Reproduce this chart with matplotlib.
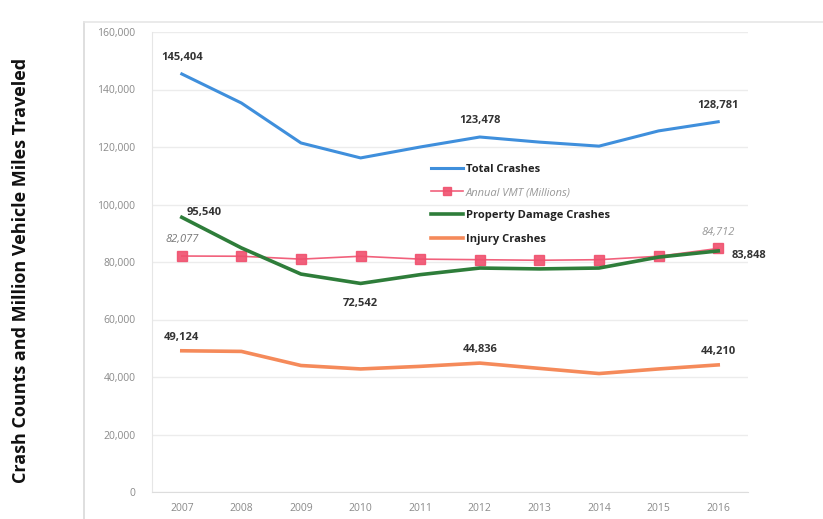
import matplotlib.pyplot as plt
from matplotlib.lines import Line2D

years = [2007, 2008, 2009, 2010, 2011, 2012, 2013, 2014, 2015, 2016]
total_crashes = [145404, 135300, 121400, 116200, 120000, 123478, 121700, 120300, 125600, 128781]
annual_vmt = [82077, 82000, 81000, 82000, 81000, 80800, 80600, 80800, 82000, 84712]
property_damage = [95540, 84900, 75800, 72542, 75600, 77900, 77600, 77900, 81700, 83848]
injury_crashes = [49124, 48900, 44000, 42800, 43700, 44836, 43000, 41200, 42800, 44210]
yticks = [0, 20000, 40000, 60000, 80000, 100000, 120000, 140000, 160000]

plt.rcParams['font.family'] = ['Open Sans', 'DejaVu Sans']

fig = plt.figure(figsize=(8.23, 5.19), dpi=100)
ax = fig.add_axes([152 / 823, 1 - 492 / 519, 596 / 823, 460 / 519])

# рамка области диаграммы
fig.add_artist(Line2D([84 / 823, 84 / 823], [0, 1 - 22 / 519], color='#d9d9d9', lw=1.2))
fig.add_artist(Line2D([84 / 823, 1], [1 - 22 / 519, 1 - 22 / 519], color='#e6e6e6', lw=1.2))

c_total = '#3f8fdc'
c_vmt = '#f0506e'
c_prop = '#2e7d3a'
c_inj = '#f58a5a'

ax.plot(years, total_crashes, color=c_total, lw=2.2, label='Total Crashes')
ax.plot(years, annual_vmt, color=c_vmt, lw=1.2, marker='s', markersize=7,
        markerfacecolor=c_vmt, markeredgecolor=c_vmt, alpha=0.9, label='Annual VMT (Millions)')
ax.plot(years, property_damage, color=c_prop, lw=2.6, label='Property Damage Crashes')
ax.plot(years, injury_crashes, color=c_inj, lw=2.6, label='Injury Crashes')

ax.set_xlim(2006.5, 2016.5)
ax.set_ylim(0, 160000)
ax.set_xticks(years)
ax.set_yticks(yticks)
ax.set_yticklabels([f'{v:,}' for v in yticks])
ax.tick_params(axis='both', length=0, labelsize=7.5, colors='#8a8a8a', pad=12)
ax.tick_params(axis='x', pad=8)
ax.grid(axis='y', color='#ececec', lw=1)
for s in ['top', 'right']:
    ax.spines[s].set_visible(False)
ax.spines['left'].set_color('#e6e6e6')
ax.spines['bottom'].set_color('#dddddd')
ax.set_axisbelow(True)

fig.text(0.025, 0.478, 'Crash Counts and Million Vehicle Miles Traveled', rotation=90,
         fontsize=13, fontweight='bold', va='center', ha='center', color='#111111')

lab = dict(fontsize=8, fontweight='bold', color='#333333', ha='center')
ax.annotate(f'{total_crashes[0]:,}', (years[0], total_crashes[0]), xytext=(0, 10), textcoords='offset points', **lab)
ax.annotate(f'{total_crashes[5]:,}', (years[5], total_crashes[5]), xytext=(0, 10), textcoords='offset points', **lab)
ax.annotate(f'{total_crashes[9]:,}', (years[9], total_crashes[9]), xytext=(0, 10), textcoords='offset points', **lab)
ax.annotate(f'{property_damage[0]:,}', (years[0], property_damage[0]), xytext=(16, 2), textcoords='offset points', **lab)
ax.annotate(f'{property_damage[3]:,}', (years[3], property_damage[3]), xytext=(0, -16), textcoords='offset points', **lab)
ax.annotate(f'{property_damage[9]:,}', (years[9], property_damage[9]), xytext=(22, -5), textcoords='offset points', **lab)
ax.annotate(f'{injury_crashes[0]:,}', (years[0], injury_crashes[0]), xytext=(0, 8), textcoords='offset points', **lab)
ax.annotate(f'{injury_crashes[5]:,}', (years[5], injury_crashes[5]), xytext=(0, 8), textcoords='offset points', **lab)
ax.annotate(f'{injury_crashes[9]:,}', (years[9], injury_crashes[9]), xytext=(0, 8), textcoords='offset points', **lab)
ax.annotate(f'{annual_vmt[0]:,}', (years[0], annual_vmt[0]), xytext=(0, 10), textcoords='offset points',
            fontsize=8, style='italic', color='#777777', ha='center')
ax.annotate(f'{annual_vmt[9]:,}', (years[9], annual_vmt[9]), xytext=(0, 10), textcoords='offset points',
            fontsize=8, style='italic', color='#999999', ha='center')

leg = ax.legend(loc='upper left', bbox_to_anchor=(0.452, 0.735), frameon=False, fontsize=8,
                handlelength=2.8, handletextpad=0.3, labelspacing=1.1, markerscale=0.75)
for t in leg.get_texts():
    t.set_fontweight('bold')
    t.set_color('#222222')
leg.get_texts()[1].set_fontweight('normal')
leg.get_texts()[1].set_style('italic')
leg.get_texts()[1].set_color('#999999')

fig.savefig('out.png', dpi=100)
